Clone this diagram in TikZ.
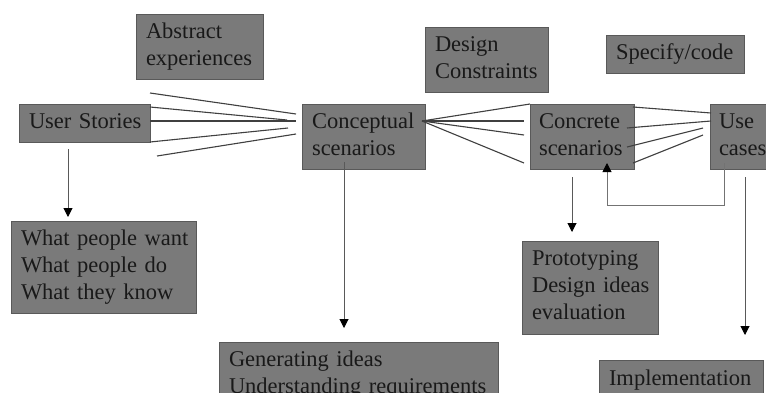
\documentclass[tikz,border=0pt]{standalone}
\usepackage{fontspec}
\setmainfont{Liberation Serif}
\usetikzlibrary{arrows.meta}
\newcommand{\boxlines}[1]{\begin{tabular}{@{}l@{}}#1\end{tabular}}
\begin{document}
\begin{tikzpicture}[x=1pt,y=-1pt,
  box/.style={draw=black!65,line width=0.9pt,fill=black!52,text=black!90,
    inner xsep=10pt,inner ysep=0pt,outer sep=0pt,align=left,
    font=\fontsize{22.5}{27}\selectfont,anchor=north west},
  fan/.style={draw=black!75,line width=1.1pt},
  arr/.style={draw=black!65,line width=1pt,-{Triangle[length=9pt,width=9pt,fill=black,color=black]}}]
\clip (0,0) rectangle (766,392);
\fill[white] (0,0) rectangle (766,392);
% boxes
\node[box,minimum width=127pt,minimum height=65pt,text width=107pt] (A) at (136,14) {\boxlines{Abstract\\experiences}};
\node[box,minimum width=131pt,minimum height=38pt,text width=111pt] (US) at (19,104) {\boxlines{User Stories}};
\node[box,minimum width=123pt,minimum height=65pt,text width=103pt] (CS) at (302,104) {\boxlines{Conceptual\\scenarios}};
\node[box,minimum width=123pt,minimum height=65pt,text width=103pt] (DC) at (425,27) {\boxlines{Design\\Constraints}};
\node[box,minimum width=138pt,minimum height=38pt,text width=118pt] (SC) at (606,35) {\boxlines{Specify/code}};
\node[box,minimum width=104pt,minimum height=65pt,text width=86pt,inner xsep=9pt] (CR) at (530,104) {\boxlines{Concrete\\scenarios}};
\node[box,minimum width=80pt,minimum height=65pt,text width=62pt,inner xsep=9pt] (UC) at (710,104) {\boxlines{Use\\cases}};
\node[box,minimum width=185pt,minimum height=92pt,text width=165pt] (W) at (11,221) {\boxlines{What people want\\What people do\\What they know}};
\node[box,minimum width=279pt,minimum height=65pt,text width=259pt] (G) at (219,342) {\boxlines{Generating ideas\\Understanding requirements}};
\node[box,minimum width=136pt,minimum height=93pt,text width=116pt] (P) at (522,241) {\boxlines{Prototyping\\Design ideas\\evaluation}};
\node[box,minimum width=164pt,minimum height=40pt,text width=144pt] (I) at (599,360) {\boxlines{Implementation}};
% fan: user stories -> conceptual
\coordinate (u1) at (150,93);  \coordinate (c1) at (296,114);
\coordinate (u2) at (150,107); \coordinate (c2) at (287,120);
\coordinate (u3) at (150,121); \coordinate (c3) at (296,121);
\coordinate (u4) at (150,142); \coordinate (c4) at (288,128);
\coordinate (u5) at (157,156); \coordinate (c5) at (296,134);
\foreach \i in {1,...,5} \draw[fan] (u\i) -- (c\i);
% fan: conceptual -> concrete
\coordinate (cs0) at (422,121);
\coordinate (k2) at (524,121);
\coordinate (k3) at (524,135);
\coordinate (k4) at (524,163);
\draw[fan] (cs0) -- (CR.north west);
\foreach \i in {2,3,4} \draw[fan] (cs0) -- (k\i);
% fan: concrete -> use cases
\coordinate (r1) at (633,107); \coordinate (e1) at (711,113);
\coordinate (r2) at (627,128); \coordinate (e2) at (711,121);
\coordinate (r3) at (627,147); \coordinate (e3) at (703,128);
\coordinate (r4) at (633,163); \coordinate (e4) at (703,135);
\foreach \i in {1,...,4} \draw[fan] (r\i) -- (e\i);
% vertical arrows
\coordinate (a1) at (68,149);  \coordinate (b1) at (68,217);
\coordinate (a2) at (344,162); \coordinate (b2) at (344,328);
\coordinate (a3) at (572,177); \coordinate (b3) at (572,232);
\coordinate (a4) at (745,177); \coordinate (b4) at (745,335);
\foreach \i in {1,...,4} \draw[arr] (a\i) -- (b\i);
% feedback loop
\coordinate (l0) at (724,163);
\coordinate (l1) at (724,205);
\coordinate (l2) at (607,205);
\coordinate (l3) at (607,163);
\draw[arr,draw=black!55] (l0) -- (l1) -- (l2) -- (l3);
\end{tikzpicture}
\end{document}
